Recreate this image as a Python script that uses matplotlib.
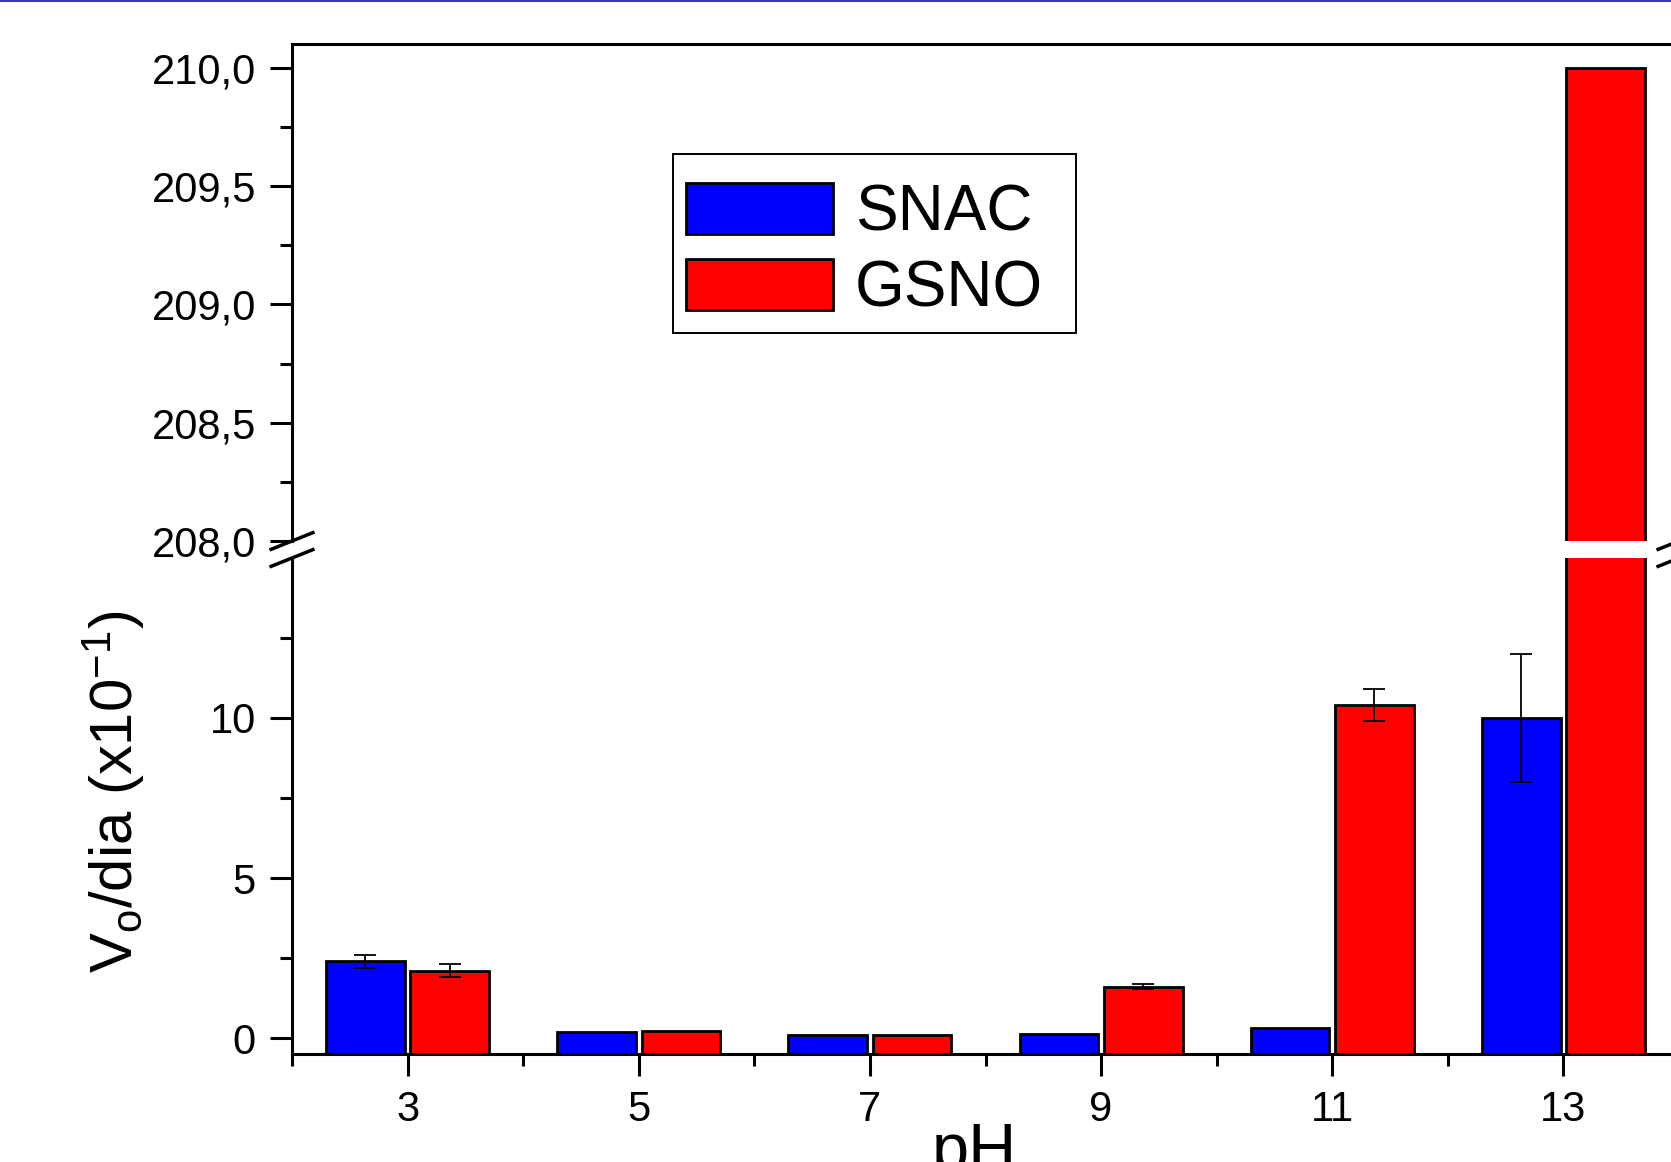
import matplotlib
matplotlib.use('Agg')
import matplotlib.pyplot as plt
import numpy as np
from matplotlib.lines import Line2D
from matplotlib.patches import Rectangle
from matplotlib.transforms import IdentityTransform

# ---------------- data ----------------
ph = [3, 5, 7, 9, 11, 13]
snac = [2.4, 0.18, 0.10, 0.12, 0.30, 10.0]
snac_err = [0.2, 0.0, 0.0, 0.0, 0.0, 2.0]
gsno = [2.1, 0.22, 0.10, 1.6, 10.4, 210.0]
gsno_err = [0.2, 0.0, 0.0, 0.08, 0.5, 0.0]
series_names = ['SNAC', 'GSNO']

x_major = [3, 5, 7, 9, 11, 13]
x_major_labels = ['3', '5', '7', '9', '11', '13']
x_minor = [2, 4, 6, 8, 10, 12, 14]
y_low_major = [0, 5, 10]
y_low_labels = ['0', '5', '10']
y_low_minor = [2.5, 7.5, 12.5]
y_top_major = [208.0, 208.5, 209.0, 209.5, 210.0]
y_top_labels = ['208,0', '208,5', '209,0', '209,5', '210,0']
y_top_minor = [208.25, 208.75, 209.25, 209.75]

# ---------------- style ----------------
plt.rcParams['font.family'] = ['Liberation Sans', 'DejaVu Sans']
plt.rcParams['mathtext.fontset'] = 'custom'
plt.rcParams['mathtext.rm'] = 'Liberation Sans'
plt.rcParams['mathtext.it'] = 'Liberation Sans:italic'
plt.rcParams['mathtext.bf'] = 'Liberation Sans:bold'

W, H = 1671, 1162
fig = plt.figure(figsize=(W / 100, H / 100), dpi=100, facecolor='white')

L, R = 292, 1679
ax_top = fig.add_axes([L / W, 1 - 541 / H, (R - L) / W, (541 - 44) / H])
ax_low = fig.add_axes([L / W, 1 - 1054 / H, (R - L) / W, (1054 - 558) / H])

low_min = -0.5   # bars start at the bottom of the axis (as in the original)

x = np.array(ph, dtype=float)
bw = 0.68
off = 0.365
lw_sp = 2.2

for ax in (ax_top, ax_low):
    b1 = ax.bar(x - off, np.array(snac) - low_min, bw, bottom=low_min,
                color='#0000ff', edgecolor='black', linewidth=2.0,
                label=series_names[0], zorder=2)
    b2 = ax.bar(x + off, np.array(gsno) - low_min, bw, bottom=low_min,
                color='#ff0000', edgecolor='black', linewidth=2.0,
                label=series_names[1], zorder=2)
    ax.set_xlim(2, 14)
    for s in ax.spines.values():
        s.set_linewidth(lw_sp)
    ax.set_xticks(x_major)
    ax.set_xticks(x_minor, minor=True)
    ax.tick_params(which='major', direction='out', length=16, width=lw_sp,
                   labelsize=30, pad=10, right=False, top=False)
    ax.tick_params(which='minor', direction='out', length=8.5, width=lw_sp,
                   right=False, top=False)

se = np.array(snac_err)
m = se > 0
ax_low.errorbar((x - off)[m], np.array(snac)[m], yerr=se[m], fmt='none',
                ecolor='black', elinewidth=1.3, capsize=8, capthick=1.3, zorder=3)
ge = np.array(gsno_err)
m = ge > 0
ax_low.errorbar((x + off)[m], np.array(gsno)[m], yerr=ge[m], fmt='none',
                ecolor='black', elinewidth=1.3, capsize=8, capthick=1.3, zorder=3)

# top segment
ax_top.set_ylim(208.0, 210.1)
ax_top.set_yticks(y_top_major)
ax_top.set_yticklabels(y_top_labels)
ax_top.set_yticks(y_top_minor, minor=True)
ax_top.spines['bottom'].set_visible(False)
ax_top.tick_params(axis='x', which='both', bottom=False, labelbottom=False)

# bottom segment
ax_low.set_ylim(low_min, 15.0)
ax_low.set_yticks(y_low_major)
ax_low.set_yticklabels(y_low_labels)
ax_low.set_yticks(y_low_minor, minor=True)
ax_low.set_xticklabels(x_major_labels)
ax_low.spines['top'].set_visible(False)

# break marks
def slash(ax, xa, ya):
    px, py = ax.transAxes.transform((xa, ya))
    fig.add_artist(Line2D([px - 22.5, px + 22.5], [py - 9, py + 9],
                          transform=IdentityTransform(), color='black',
                          lw=2.5, solid_capstyle='butt'))

for xa in (0, 1):
    slash(ax_top, xa, 0)
    slash(ax_low, xa, 1)

# legend (frameless) + separate frame box
leg = fig.legend(handles=[b1, b2], labels=series_names, loc='upper left',
                 bbox_to_anchor=(686 / W, 1 - 183 / H),
                 bbox_transform=fig.transFigure, fontsize=46, frameon=False,
                 borderpad=0, handlelength=2.3, handleheight=0.86,
                 handletextpad=0.34, labelspacing=0.24, borderaxespad=0)
fig.add_artist(Rectangle((673 / W, 1 - 333 / H), (1076 - 673) / W,
                         (333 - 154) / H, transform=fig.transFigure,
                         fill=False, edgecolor='black', linewidth=1.4))

# axis labels
fig.text(133 / W, 1 - 792 / H, r'V$_\mathregular{o}$/dia (x10$^\mathregular{-1}$)',
         rotation=90, rotation_mode='anchor', ha='center', va='baseline',
         fontsize=43)
fig.text(974 / W, 1 - 1170 / H, 'pH', ha='center', va='baseline', fontsize=48)

# thin blue border line at the very top
fig.add_artist(Line2D([0, 1], [1 - 0.8 / H] * 2, transform=fig.transFigure,
                      color='#1010a0', lw=1.2))

fig.savefig('out.png', dpi=100, facecolor='white')
